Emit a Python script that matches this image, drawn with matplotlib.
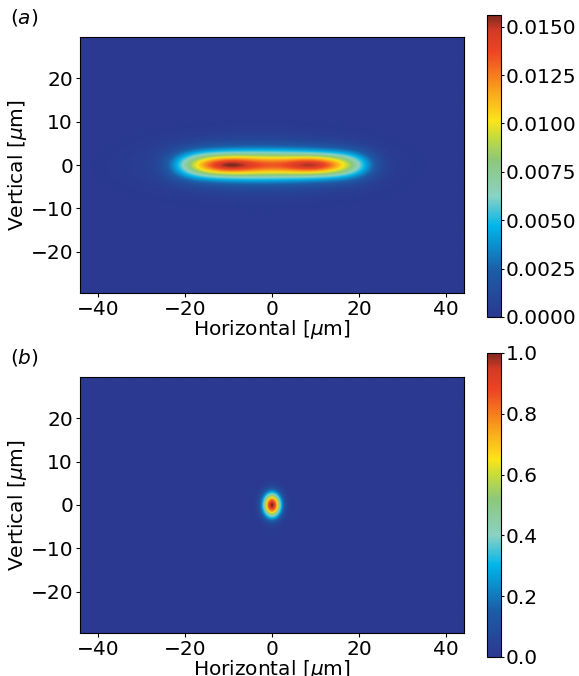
import numpy as np
import matplotlib
matplotlib.use("Agg")
import matplotlib.pyplot as plt
from matplotlib.colors import LinearSegmentedColormap

# colormap stops
cmap_pos = [0.0, 0.15, 0.30, 0.40, 0.52, 0.60, 0.65, 0.75, 0.88, 0.95, 1.0]
cmap_cols = ["#2b3990", "#1d5ba6", "#00b5ea", "#8bd2c4", "#8dc77b", "#c8dc3a",
             "#fbe51a", "#f9a31c", "#ee4424", "#d23a26", "#7f2a1f"]

# axis extent [um]
x_lim = [-44.2, 44.2]
y_lim = [-29.5, 29.5]
x_ticks = [-40, -20, 0, 20, 40]
y_ticks = [-20, -10, 0, 10, 20]

# panel (a): elongated flat-top beam with two intensity peaks
a_peak = 0.0156
a_center = 0.0
a_half_width = 21.6
a_edge_power = 6
a_sigma_y = 2.15
a_peaks_x = [-9.9, 9.2]
a_peaks_sigma = [4.0, 1.2]
a_peaks_frac = 0.22
a_halo = [0.2, -3.0, 14.0, 3.8]   # relative amplitude, x0, sigma_x, sigma_y
a_ticks = [0.0, 0.0025, 0.0050, 0.0075, 0.0100, 0.0125, 0.0150]
a_vmax = 0.0156

# panel (b): small focused spot
b_peak = 1.0
b_center = [0.0, 0.0]
b_sigma = [1.4, 1.9]
b_ticks = [0.0, 0.2, 0.4, 0.6, 0.8, 1.0]

cmap = LinearSegmentedColormap.from_list("beam", list(zip(cmap_pos, cmap_cols)))

x = np.linspace(x_lim[0], x_lim[1], 400)
y = np.linspace(y_lim[0], y_lim[1], 270)
X, Y = np.meshgrid(x, y)

flat = np.exp(-np.abs((X - a_center) / a_half_width) ** a_edge_power)
flat = flat * np.exp(-Y ** 2 / (2 * a_sigma_y ** 2))
bumps = sum(np.exp(-(X - px) ** 2 / (2 * a_peaks_sigma[0] ** 2)
                   - Y ** 2 / (2 * a_peaks_sigma[1] ** 2)) for px in a_peaks_x)
A = (1 - a_peaks_frac) * flat + a_peaks_frac * bumps
A += a_halo[0] * np.exp(-(X - a_halo[1]) ** 2 / (2 * a_halo[2] ** 2)
                        - Y ** 2 / (2 * a_halo[3] ** 2))
A = A / A.max() * a_peak

B = b_peak * np.exp(-(X - b_center[0]) ** 2 / (2 * b_sigma[0] ** 2)
                    - (Y - b_center[1]) ** 2 / (2 * b_sigma[1] ** 2))

W, H = 579, 676
fig = plt.figure(figsize=(W / 100, H / 100), dpi=100)
fs = 14.5
fs_lab = 14.5


def px_axes(l, t, r, b):
    return fig.add_axes([l / W, 1 - b / H, (r - l) / W, (b - t) / H])


panels = [
    (A, 0, a_vmax, a_ticks, "%.4f", (80, 37, 464, 293), (487, 15, 501, 317), "($a$)", 18),
    (B, 0, 1.0, b_ticks, "%.1f", (80, 377, 464, 633), (487, 353, 501, 657), "($b$)", 357),
]

for data, vmin, vmax, cticks, cfmt, abox, cbox, lab, ly in panels:
    ax = px_axes(*abox)
    im = ax.imshow(data, cmap=cmap, vmin=vmin, vmax=vmax, origin="lower",
                   extent=[x_lim[0], x_lim[1], y_lim[0], y_lim[1]],
                   aspect="auto", interpolation="bilinear")
    ax.set_xticks(x_ticks)
    ax.set_yticks(y_ticks)
    ax.tick_params(labelsize=fs, pad=2, length=3)
    ax.set_xlabel(r"Horizontal [$\mu$m]", fontsize=fs_lab, labelpad=-1)
    ax.set_ylabel(r"Vertical [$\mu$m]", fontsize=fs_lab, labelpad=1)
    cax = px_axes(*cbox)
    cb = fig.colorbar(im, cax=cax, ticks=cticks, format=cfmt)
    cb.ax.tick_params(labelsize=fs, pad=1, length=2.5)
    cb.outline.set_linewidth(0.8)
    fig.text(10 / W, 1 - ly / H, lab, fontsize=fs_lab, va="center", ha="left")

fig.savefig("out.png", dpi=100)
